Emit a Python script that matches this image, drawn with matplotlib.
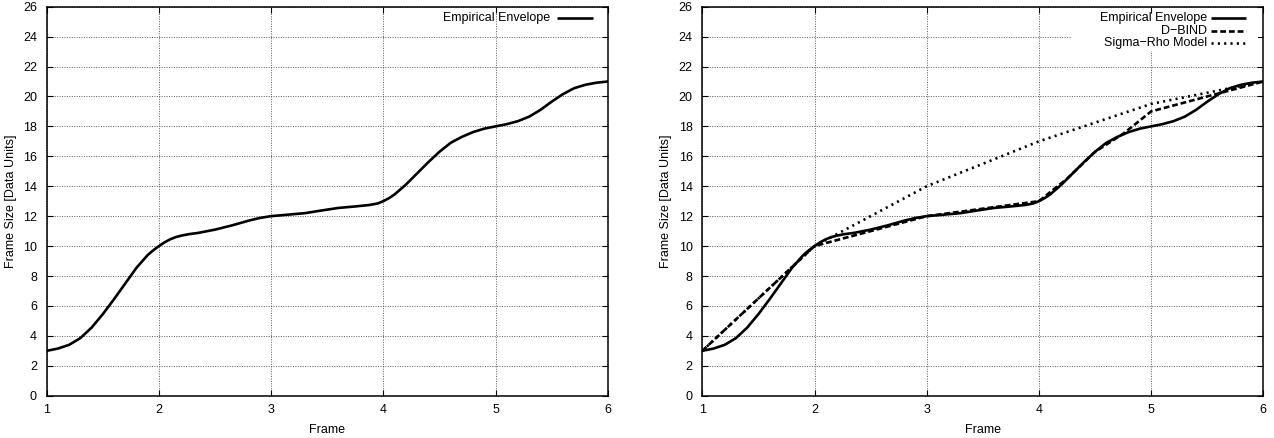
import matplotlib
matplotlib.use("Agg")
import matplotlib.pyplot as plt
from matplotlib.patches import Rectangle

plt.rcParams["font.family"] = ["Liberation Sans", "DejaVu Sans"]
plt.rcParams["font.size"] = 9

# Empirical arrival envelope (frame index -> cumulative size)
env_frame = [1.00, 1.10, 1.20, 1.30, 1.40, 1.50, 1.60, 1.70, 1.80, 1.90,
             1.95, 2.00, 2.05, 2.10, 2.15, 2.20, 2.27, 2.35, 2.50, 2.65,
             2.80, 2.90, 3.00, 3.15, 3.30, 3.45, 3.60, 3.75, 3.88, 3.95,
             4.00, 4.05, 4.10, 4.20, 4.30, 4.40, 4.50, 4.60, 4.70, 4.80,
             4.90, 5.00, 5.10, 5.20, 5.30, 5.40, 5.50, 5.60, 5.70, 5.80,
             5.90, 6.00]
env_size = [3.00, 3.15, 3.40, 3.85, 4.55, 5.45, 6.45, 7.50, 8.55, 9.40,
            9.72, 10.00, 10.25, 10.45, 10.60, 10.70, 10.80, 10.88, 11.10, 11.38,
            11.70, 11.88, 12.00, 12.10, 12.20, 12.38, 12.55, 12.65, 12.75, 12.85,
            13.00, 13.20, 13.45, 14.10, 14.85, 15.60, 16.30, 16.90, 17.30, 17.62,
            17.85, 18.00, 18.15, 18.35, 18.65, 19.10, 19.65, 20.15, 20.55, 20.78,
            20.92, 21.00]

# D-BIND piecewise-linear bound
dbind_frame = [1, 2, 3, 4, 4.25, 4.5, 4.75, 5, 6]
dbind_size = [3, 10, 12, 13, 14.5, 16.3, 17.5, 19, 21]

# Sigma-Rho model (concave piecewise-linear)
sr_frame = [1, 2, 3, 4, 5, 6]
sr_size = [3, 10, 14, 17, 19.5, 21]

x_ticks = [1, 2, 3, 4, 5, 6]
y_ticks = list(range(0, 27, 2))

W, H = 1274, 438
fig = plt.figure(figsize=(W / 100, H / 100), dpi=100)

def px_axes(x0, x1, ytop, ybot):
    return fig.add_axes([x0 / W, 1 - ybot / H, (x1 - x0) / W, (ybot - ytop) / H])

ax1 = px_axes(46.7, 607.7, 6.7, 395.7)
ax2 = px_axes(702.3, 1263.3, 6.7, 395.7)

LW = 1.9

def style(ax):
    ax.set_xlim(1, 6)
    ax.set_ylim(0, 26)
    ax.set_xticks(x_ticks)
    ax.set_yticks(y_ticks)
    ax.tick_params(direction="in", length=4.5, width=0.8, top=True, right=True,
                   labelsize=9, colors="black")
    ax.tick_params(axis="x", pad=6)
    ax.tick_params(axis="y", pad=7)
    ax.grid(True, color="0.35", linestyle=(0, (1, 1.5)), linewidth=0.7)
    for s in ax.spines.values():
        s.set_linewidth(1.1)
        s.set_color("black")
    ax.set_xlabel("Frame", fontsize=9, labelpad=6)
    ax.set_ylabel("Frame Size [Data Units]", fontsize=9, ha="center", va="center")
    ax.yaxis.set_label_coords(-0.064, 0.5)

def key_entry(ax, row_y, label, ls, x_text, x0, x1):
    ax.text(x_text, row_y, label, transform=ax.transAxes, ha="right",
            va="center", fontsize=9, zorder=4)
    ax.plot([x0, x1], [row_y, row_y], transform=ax.transAxes, color="black",
            linewidth=LW, linestyle=ls, solid_capstyle="butt",
            dash_capstyle="butt", clip_on=False, zorder=4)

# Left panel: empirical envelope only
style(ax1)
ax1.plot(env_frame, env_size, color="black", linewidth=LW, zorder=3,
         solid_joinstyle="round")
key_entry(ax1, 0.9702, "Empirical Envelope", "-", 0.8971, 0.9097, 0.9738)

# Right panel: envelope with both bounds
style(ax2)
ax2.add_patch(Rectangle((0.659, 0.886), 0.332, 0.095, transform=ax2.transAxes,
                        facecolor="white", edgecolor="none", zorder=1.6))
ax2.plot(env_frame, env_size, color="black", linewidth=LW, zorder=3,
         solid_joinstyle="round")
ax2.plot(dbind_frame, dbind_size, color="black", linewidth=LW,
         linestyle=(0, (2.2, 1.1)), zorder=3)
ax2.plot(sr_frame, sr_size, color="black", linewidth=LW,
         linestyle=(0, (0.8, 1.6)), zorder=3)
key_entry(ax2, 0.9697, "Empirical Envelope", "-", 0.8996, 0.9067, 0.9691)
key_entry(ax2, 0.9375, "D\u2212BIND", (0, (2.2, 1.1)), 0.8996, 0.9067, 0.9691)
key_entry(ax2, 0.9054, "Sigma\u2212Rho Model", (0, (0.8, 1.6)), 0.8996, 0.9067, 0.9691)

fig.savefig("out.png", dpi=100)
